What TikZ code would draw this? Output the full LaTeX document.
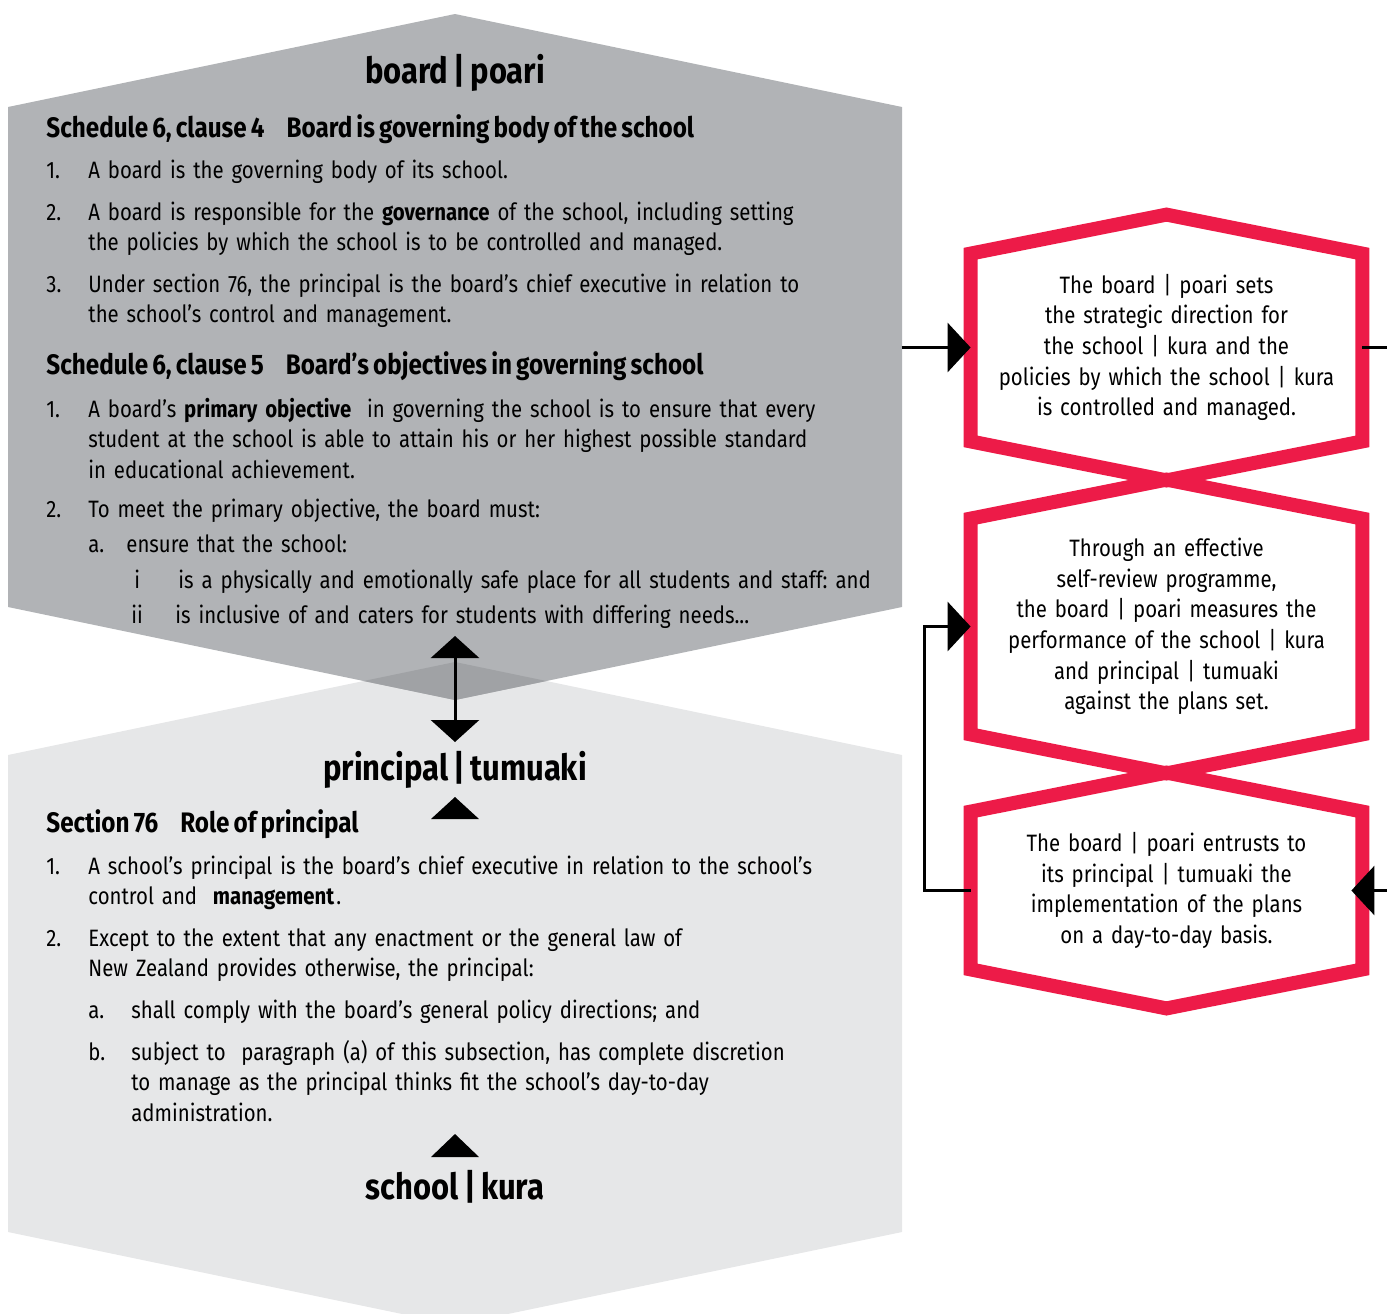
\documentclass[tikz,border=0pt]{standalone}
\usepackage{fontspec}
\setmainfont[FakeStretch=0.86,WordSpace=0.72]{Fira Sans}
\usepackage{tikz}
\usetikzlibrary{arrows.meta,positioning,calc}
\frenchspacing
\definecolor{boardgray}{HTML}{B1B3B6}
\definecolor{princgray}{HTML}{E6E7E8}
\definecolor{overgray}{HTML}{A0A2A5}
\definecolor{hexred}{HTML}{ED1B48}
\newcommand{\legalfont}{\fontsize{11.85}{15.3}\selectfont}
\newcommand{\headfont}{\fontsize{14.1}{15.3}\selectfont\bfseries}
\newcommand{\titlefont}{\fontsize{18}{20}\selectfont\bfseries}
\tikzset{num/.style={anchor=base west,inner sep=0pt,font=\legalfont},item/.style={anchor=base west,inner sep=0pt,align=left,text width=420pt,font=\legalfont},head/.style={anchor=base west,inner sep=0pt,font=\headfont},title/.style={anchor=base,inner sep=0pt,font=\titlefont},arr/.style={-{Triangle[length=11.5pt,width=24.5pt]},line width=1.5pt}}

\begin{document}
\begin{tikzpicture}[x=0.5pt,y=-0.5pt,hextext/.style={align=center,text width=185pt,inner xsep=5.25pt,inner ysep=0pt,font=\legalfont},hexline/.style={draw=hexred,line width=7pt,miter limit=10},dbl/.style={{Triangle[length=11pt,width=24pt]}-{Triangle[length=11pt,width=24pt]},line width=1.5pt}]
\useasboundingbox (0,0) rectangle (1387,1313);
\fill[princgray] (8,755) -- (455,662) -- (902,755) -- (902,1232) -- (455,1325) -- (8,1232) -- cycle;
\fill[boardgray] (8,107) -- (455,14) -- (902,107) -- (902,607) -- (455,700) -- (8,607) -- cycle;
\fill[overgray] (455,662) -- (363.6,681) -- (455,700) -- (546.4,681) -- cycle;
\node[title] (board) at (455,83) {board | poari};
\node[head] (cl4) at (46,137) {Schedule 6, clause 4\hspace{11pt}Board is governing body of the school};
\node[num] (n41) at (46,178) {1.};\node[item] (t41) at (88,178) {A board is the governing body of its school.};
\node[num] (n42) at (46,220) {2.};\node[item] (t42) at (88,220) {A board is responsible for the \textbf{governance} of the school, including setting\\the policies by which the school is to be controlled and managed.};
\node[num] (n43) at (46,292) {3.};\node[item] (t43) at (88,292) {Under section 76, the principal is the board’s chief executive in relation to\\the school’s control and management.};
\node[head] (cl5) at (46,374) {Schedule 6, clause 5\hspace{11pt}Board’s objectives in governing school};
\node[num] (n51) at (46,417) {1.};\node[item] (t51) at (88,417) {A board’s \textbf{primary objective}\ \ in governing the school is to ensure that every\\student at the school is able to attain his or her highest possible standard\\in educational achievement.};
\node[num] (n52) at (46,517) {2.};\node[item] (t52) at (88,517) {To meet the primary objective, the board must:};
\node[num] (n5a) at (88,552) {a.};\node[item] (t5a) at (126,552) {ensure that the school:};
\node[num] (n5i) at (134,588) {i};\node[item] (t5i) at (178,588) {is a physically and emotionally safe place for all students and staff: and};
\node[num] (n5ii) at (131,623) {ii};\node[item] (t5ii) at (175,623) {is inclusive of and caters for students with differing needs...};
\coordinate (upT) at (455,636);\coordinate (dnT) at (455,742);
\draw[dbl] (upT) -- (dnT);
\node[title] (principal) at (455,780) {principal | tumuaki};
\fill (431,819) -- (455,797) -- (479,819) -- cycle;
\node[head] (s76) at (46,832) {Section 76\hspace{11pt}Role of principal};
\node[num] (n61) at (46,874) {1.};\node[item] (t61) at (88,874) {A school’s principal is the board’s chief executive in relation to the school’s\\control and\ \ \textbf{management}\hspace{1pt}.};
\node[num] (n62) at (46,946) {2.};\node[item] (t62) at (88,946) {Except to the extent that any enactment or the general law of\\New Zealand provides otherwise, the principal:};
\node[num] (n6a) at (88,1018) {a.};\node[item] (t6a) at (131,1018) {shall comply with the board’s general policy directions; and};
\node[num] (n6b) at (88,1060) {b.};\node[item] (t6b) at (131,1060) {subject to\ \ paragraph (a) of this subsection, has complete discretion\\to manage as the principal thinks fit the school’s day-to-day\\administration.};
\fill (431,1157) -- (455,1134) -- (479,1157) -- cycle;
\node[title] (school) at (455,1199) {school | kura};
\node[hextext,minimum height=93.5pt] (set) at (1166.5,347.5) {The board | poari sets\\the strategic direction for\\the school | kura and the\\policies by which the school | kura\\is controlled and managed.};
\node[hextext,minimum height=107.5pt] (review) at (1166.5,626.5) {Through an effective\\self-review programme,\\the board | poari measures the\\performance of the school | kura\\and principal | tumuaki\\against the plans set.};
\node[hextext,minimum height=78.5pt] (trust) at (1166.5,890.5) {The board | poari entrusts to\\its principal | tumuaki the\\implementation of the plans\\on a day-to-day basis.};
\foreach \h in {set,review,trust} \draw[hexline] (\h.south west) -- (\h.north west) -- ([yshift=19.5pt]\h.north) -- (\h.north east) -- (\h.south east) -- ([yshift=-19.5pt]\h.south) -- cycle;
\coordinate[left=34.5pt of set.west] (boardR);
\coordinate[right=12.5pt of set.east] (exitR);
\coordinate[right=12.5pt of trust.east] (entryR);
\draw[arr] (boardR) -- (set.west);
\draw[line width=1.5pt] (set.east) -- (exitR);
\draw[arr,shorten >=-5.5pt] (entryR) -- (trust.east);
\draw[arr] (trust.west) -- ++(-46,0) |- (review.west);
\end{tikzpicture}
\end{document}
